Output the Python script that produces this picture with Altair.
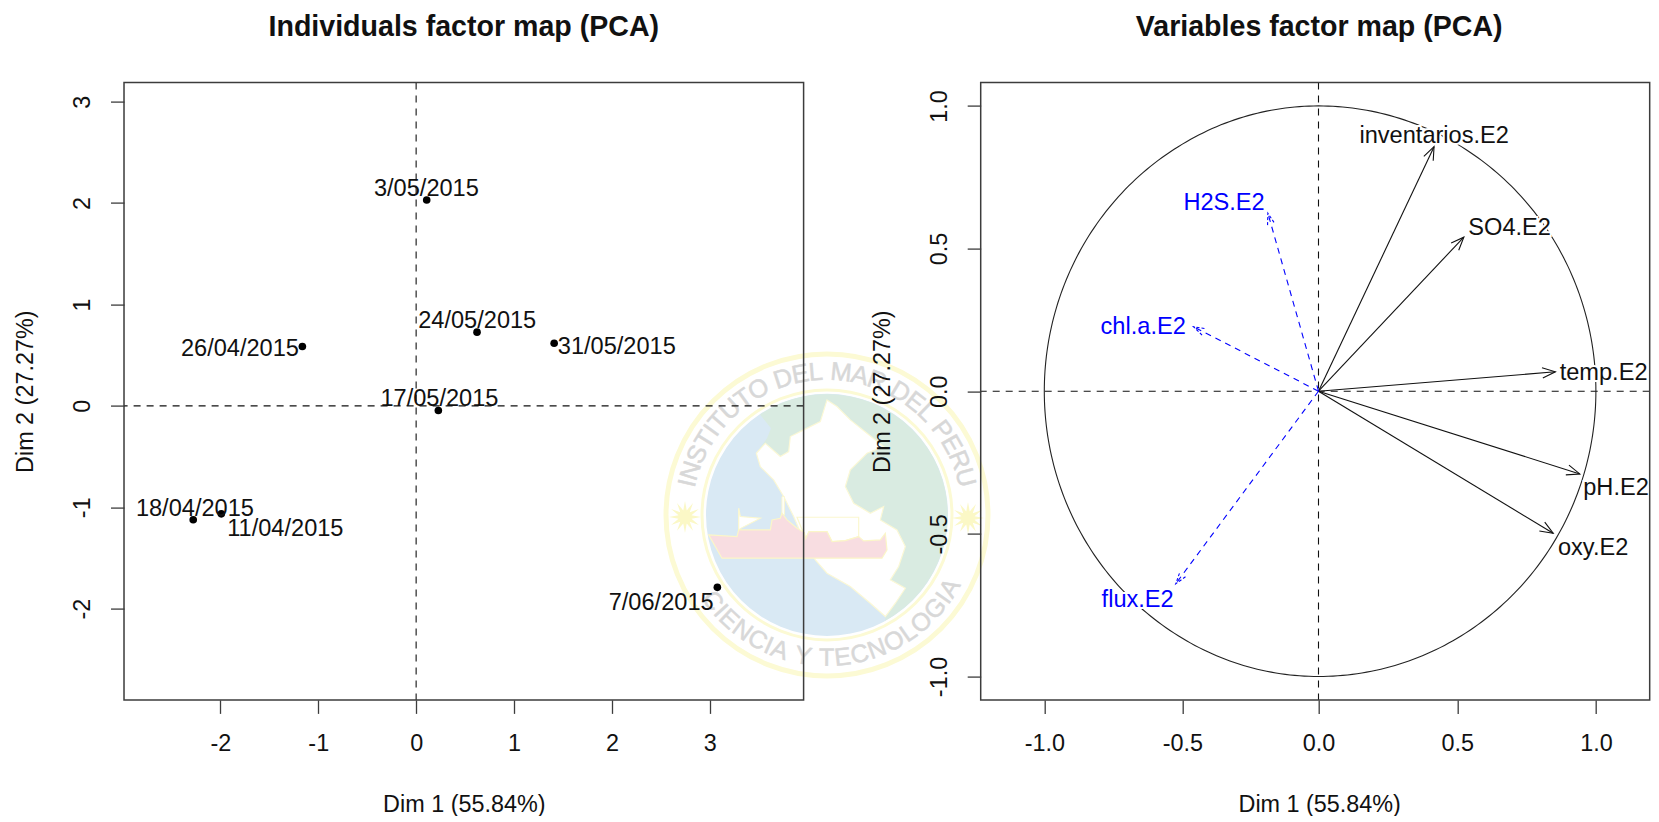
import numpy as np
import pandas as pd
import altair as alt

FONT = "Liberation Sans"
INK = "#111111"
AXIS = "#3c3c3c"

# ---- Individuals panel
ind_labels = ["11/04/2015", "18/04/2015", "26/04/2015", "3/05/2015", "17/05/2015", "24/05/2015", "31/05/2015", "7/06/2015"]
ind_x = [-1.99, -2.277, -1.162, 0.108, 0.227, 0.622, 1.41, 3.077]
ind_y = [-1.065, -1.124, 0.585, 2.03, -0.046, 0.727, 0.618, -1.79]
ind_label_x = [-1.336, -2.26, -1.80, 0.105, 0.238, 0.624, 2.05, 2.503]
ind_label_y = [-1.213, -1.019, 0.559, 2.14, 0.066, 0.838, 0.585, -1.946]

# ---- Variables panel
var_labels = ["inventarios.E2", "SO4.E2", "temp.E2", "pH.E2", "oxy.E2"]
var_x = [0.4166, 0.524, 0.854, 0.942, 0.846]
var_y = [0.857, 0.54, 0.068, -0.29, -0.498]
var_label_x = [0.417, 0.689, 1.028, 1.073, 0.99]
var_label_y = [0.895, 0.572, 0.063, -0.34, -0.548]

sup_labels = ["H2S.E2", "chl.a.E2", "flux.E2"]
sup_x = [-0.186, -0.459, -0.524]
sup_y = [0.624, 0.226, -0.675]
sup_label_x = [-0.347, -0.642, -0.662]
sup_label_y = [0.659, 0.224, -0.732]

ind_ticks_x = [-2, -1, 0, 1, 2, 3]
ind_ticks_y = [-2, -1, 0, 1, 2, 3]
var_ticks = [-1.0, -0.5, 0.0, 0.5, 1.0]

L_W, L_H = 679.6, 617.3
R_W, R_H = 669.0, 617.3
L_DX = [-2.984, 3.958]
L_DY = [-2.90, 3.188]
R_DX = [-1.2306, 1.1951]
R_DY = [-1.082, 1.0817]
lx = alt.Scale(domain=L_DX, nice=False, zero=False)
ly = alt.Scale(domain=L_DY, nice=False, zero=False)
# the source picture's horizontal axis is very slightly uneven around zero
rx = alt.Scale(domain=[R_DX[0], -1.0, -0.5, 0.0, 0.5, 1.0, R_DX[1]],
               range=[0, 63.6, 201.7, 337.8, 476.5, 615.2, R_W], nice=False, zero=False)
ry = alt.Scale(domain=R_DY, nice=False, zero=False)
LPX = L_W / (L_DX[1] - L_DX[0])
LPY = L_H / (L_DY[1] - L_DY[0])
RPX = R_W / (R_DX[1] - R_DX[0])
RPY = R_H / (R_DY[1] - R_DY[0])


def signed(fmt):
    return f"(datum.value<0?'-':'')+format(abs(datum.value),'{fmt}')"


def axis_x(values, expr, **kw):
    return alt.Axis(values=values, labelExpr=expr, title="Dim 1 (55.84%)", grid=False, domain=False,
                    tickColor=AXIS, tickWidth=1.3, tickSize=13.5, labelFont=FONT, labelFontSize=23.4,
                    labelColor=INK, labelPadding=19.5, labelAngle=0, labelFlush=False, labelOverlap=False,
                    titleFont=FONT, titleFontSize=23.4, titleFontWeight="normal", titleColor=INK, titlePadding=38, **kw)


def axis_y(values, expr):
    return alt.Axis(values=values, labelExpr=expr, title="Dim 2 (27.27%)", grid=False, domain=False,
                    tickColor=AXIS, tickWidth=1.3, tickSize=13.5, labelFont=FONT, labelFontSize=23.4,
                    labelColor=INK, labelPadding=16, labelAngle=270, labelAlign="center", labelBaseline="bottom",
                    labelFlush=False, labelOverlap=False,
                    titleFont=FONT, titleFontSize=23.4, titleFontWeight="normal", titleColor=INK, titlePadding=33)


LAX = axis_x(ind_ticks_x, signed("d"))
LAY = axis_y(ind_ticks_y, signed("d"))
RAX = axis_x(var_ticks, signed(".1f"), titleX=338.5)
RAY = axis_y(var_ticks, signed(".1f"))


def LX(f):
    return alt.X(f, scale=lx, axis=LAX)


def LY(f):
    return alt.Y(f, scale=ly, axis=LAY)


def RX(f):
    return alt.X(f, scale=rx, axis=RAX)


def RY(f):
    return alt.Y(f, scale=ry, axis=RAY)


# ---- Watermark (drawn under the left panel, spilling to the right)
LOGO_X = (827 - 124) / LPX + L_DX[0]
LOGO_Y = L_DY[1] - (515 - 82.7) / LPY
R_LOGO = 163.0


def to_path(points):
    pts = [((x - 530) / 489.0, (y - 525) / 489.0) for x, y in points]
    return "M " + " L ".join(f"{a:.4f} {b:.4f}" for a, b in pts) + " Z"


peru = [(530, 180), (560, 200), (600, 240), (650, 280), (700, 320), (650, 340), (600, 390), (585, 440), (610, 490),
        (660, 520), (700, 500), (690, 540), (740, 570), (765, 620), (745, 680), (720, 720), (765, 745), (735, 790),
        (705, 830), (660, 790), (600, 740), (530, 700), (495, 660), (460, 600), (430, 530), (400, 470), (370, 420),
        (330, 380), (318, 340), (345, 310), (390, 350), (415, 335), (420, 290), (460, 270), (510, 245)]
a0, a1 = np.arctan2(845 - 525, 705 - 530), np.arctan2(225 - 525, 330 - 530)
arc_angles = np.linspace(a0, a1 if a1 < a0 else a1 - 2 * np.pi, 60)
land = [(330, 225), (362, 265), (350, 295), (318, 340), (330, 380), (370, 420), (400, 470), (430, 530), (460, 600),
        (495, 660), (530, 700), (600, 740), (660, 790), (705, 830), (705, 845)]
land = land + [(530 + 362 * np.cos(t), 525 + 362 * np.sin(t)) for t in arc_angles]
ship = [(175, 585), (260, 590), (265, 570), (360, 570), (365, 540), (390, 535), (395, 520), (410, 540), (440, 565),
        (462, 578), (466, 596), (476, 575), (530, 575), (545, 605), (585, 602), (625, 590), (640, 603), (690, 600),
        (705, 580), (710, 630), (695, 655), (215, 655)]
flag = [(265, 505), (265, 580), (270, 566), (330, 535), (270, 530)]
mast = [(395, 470), (402, 470), (402, 525), (395, 525)]
upper = [(440, 532), (625, 532), (625, 590), (585, 602), (545, 605), (530, 575), (476, 575), (466, 596)]
star_r = [1.0 if i % 2 == 0 else 0.42 for i in range(24)]
star_path = "M " + " L ".join(
    f"{r * np.cos(i * np.pi / 12):.3f} {r * np.sin(i * np.pi / 12):.3f}" for i, r in enumerate(star_r)) + " Z"


def logo_shape(path, fill, stroke, width=1.5):
    return alt.Chart(pd.DataFrame({"x": [LOGO_X], "y": [LOGO_Y]})).mark_point(
        shape=path, size=(2 * R_LOGO) ** 2, filled=True, fill=fill, stroke=stroke, strokeWidth=width, opacity=1
    ).encode(x=LX("x:Q"), y=LY("y:Q"))


def logo_circle(radius, fill=None, stroke=None, width=0):
    kw = dict(shape="circle", size=(2 * radius) ** 2, opacity=1, strokeWidth=width)
    if fill:
        kw.update(filled=True, fill=fill)
    else:
        kw.update(filled=False)
    if stroke:
        kw.update(stroke=stroke)
    return alt.Chart(pd.DataFrame({"x": [LOGO_X], "y": [LOGO_Y]})).mark_point(**kw).encode(x=LX("x:Q"), y=LY("y:Q"))


CHAR_W = {"I": .28, " ": .30, "M": .83, "A": .67, "E": .67, "S": .67, "T": .61, "U": .72, "O": .78, "D": .72, "L": .56,
          "R": .72, "P": .67, "N": .72, "C": .72, "Y": .67, "G": .78}


def arc_text(text, centre_deg, radius, fs, direction):
    widths = np.array([CHAR_W[c] * fs for c in text])
    mids = np.cumsum(widths) - widths / 2 - widths.sum() / 2
    theta = np.radians(centre_deg) + direction * mids / radius
    return pd.DataFrame({
        "c": list(text),
        "x": LOGO_X + radius * np.sin(theta) / LPX,
        "y": LOGO_Y + radius * np.cos(theta) / LPY,
        "rot": (np.degrees(theta) - (0 if direction > 0 else 180)) % 360,
    })


def ring_text(df, fs):
    return alt.Chart(df).mark_text(font=FONT, fontSize=fs, color="#d8d8d8", stroke="#d8d8d8", strokeWidth=0.5,
                                   align="center", baseline="middle").encode(
        x=LX("x:Q"), y=LY("y:Q"), text="c:N", angle=alt.Angle("rot:Q", scale=None))


stars = alt.Chart(pd.DataFrame({
    "x": [(685 - 124) / LPX + L_DX[0], (968 - 124) / LPX + L_DX[0]],
    "y": [L_DY[1] - (517 - 82.7) / LPY, L_DY[1] - (518 - 82.7) / LPY]})).mark_point(
    shape=star_path, size=32 ** 2, filled=True, fill="#fbf8c6", strokeWidth=0, opacity=1).encode(
    x=LX("x:Q"), y=LY("y:Q"))

watermark = [
    logo_circle(161, stroke="#fcfad4", width=5),
    logo_circle(125, stroke="#fcfad4", width=3),
    logo_circle(121, fill="#d9e9f4"),
    logo_shape(to_path(land), "#d9ebe1", "#d9ebe1", 0),
    logo_shape(to_path(peru), "#ffffff", "#fbf8d6", 1.2),
    logo_shape(to_path(flag), "#ffffff", "#fbf8d0", 1.2),
    logo_shape(to_path(mast), "#ffffff", "#fbf8d0", 1.0),
    logo_shape(to_path(upper), "#ffffff", "#fbf8d0", 1.2),
    logo_shape(to_path(ship), "#f8dde1", "#fbf6c8", 1.2),
    stars,
    ring_text(arc_text("INSTITUTO DEL MAR DEL PERU", 0, 143, 25.5, 1), 25.5),
    ring_text(arc_text("CIENCIA Y TECNOLOGIA", 177, 143, 25, -1), 25),
]

# ---- Left panel
ind = pd.DataFrame({"lab": ind_labels, "x": ind_x, "y": ind_y, "lx": ind_label_x, "ly": ind_label_y})
zero = pd.DataFrame({"v": [0]})
rule_l_v = alt.Chart(zero).mark_rule(color=INK, strokeDash=[7, 6], strokeWidth=1.1).encode(x=LX("v:Q"))
rule_l_h = alt.Chart(zero).mark_rule(color=INK, strokeDash=[7, 6], strokeWidth=1.1).encode(y=LY("v:Q"))
points = alt.Chart(ind).mark_point(shape="circle", filled=True, color="#000000", size=58, opacity=1).encode(
    x=LX("x:Q"), y=LY("y:Q"))
ind_text = alt.Chart(ind).mark_text(font=FONT, fontSize=23.6, color=INK, align="center", baseline="middle").encode(
    x=LX("lx:Q"), y=LY("ly:Q"), text="lab:N")


def box(w, h):
    return alt.Chart(zero).mark_rect(filled=False, stroke=AXIS, strokeWidth=1.5).encode(
        x=alt.value(0), x2=alt.value(w), y=alt.value(0), y2=alt.value(h))


left = alt.layer(*watermark, rule_l_v, rule_l_h, points, ind_text, box(L_W, L_H)).properties(
    width=L_W, height=L_H,
    title=alt.TitleParams("Individuals factor map (PCA)", font=FONT, fontSize=28.6, fontWeight="bold", color=INK,
                          anchor="middle", offset=40))

# ---- Right panel
theta_c = np.linspace(0, 2 * np.pi, 361)
circle = pd.DataFrame({"i": np.arange(361), "x": np.cos(theta_c), "y": np.sin(theta_c)})
var = pd.DataFrame({"lab": var_labels, "x": var_x, "y": var_y, "lx": var_label_x, "ly": var_label_y})
sup = pd.DataFrame({"lab": sup_labels, "x": sup_x, "y": sup_y, "lx": sup_label_x, "ly": sup_label_y})
for d in (var, sup):
    d["x0"] = 0.0
    d["y0"] = 0.0
    d["rot"] = np.degrees(np.arctan2(d["x"] * RPX, d["y"] * RPY)) % 360

HEAD = "M -0.37 0.93 L 0 0 L 0.37 0.93"
HEAD_SUP = "M -0.3 0.95 L 0 0 L 0.3 0.95"
rule_r_v = alt.Chart(zero).mark_rule(color=INK, strokeDash=[7, 6], strokeWidth=1.1).encode(x=RX("v:Q"))
rule_r_h = alt.Chart(zero).mark_rule(color=INK, strokeDash=[7, 6], strokeWidth=1.1).encode(y=RY("v:Q"))
circ = alt.Chart(circle).mark_line(color="#222222", strokeWidth=1.1).encode(x=RX("x:Q"), y=RY("y:Q"), order="i:Q")


def shafts(df, color, dash=None):
    kw = {"strokeDash": dash} if dash else {}
    return alt.Chart(df).mark_rule(color=color, strokeWidth=1.1, **kw).encode(
        x=RX("x0:Q"), y=RY("y0:Q"), x2="x:Q", y2="y:Q")


def heads(df, color, path, px, dash=None):
    kw = {"strokeDash": dash} if dash else {}
    return alt.Chart(df).mark_point(shape=path, size=(2 * px) ** 2, filled=False, stroke=color, strokeWidth=1.1,
                                    opacity=1, **kw).encode(
        x=RX("x:Q"), y=RY("y:Q"), angle=alt.Angle("rot:Q", scale=None))


def var_text(df, color, halo=False):
    kw = dict(stroke="#ffffff", strokeWidth=4) if halo else {}
    return alt.Chart(df).mark_text(font=FONT, fontSize=23.6, color=color, align="center", baseline="middle", **kw).encode(
        x=RX("lx:Q"), y=RY("ly:Q"), text="lab:N")


right = alt.layer(rule_r_v, rule_r_h, circ,
                  var_text(var, "#ffffff", True), var_text(sup, "#ffffff", True),
                  shafts(var, INK), heads(var, INK, HEAD, 14),
                  shafts(sup, "#0000ff", [6, 5]), heads(sup, "#0000ff", HEAD_SUP, 12, [3, 2]),
                  var_text(var, INK), var_text(sup, "#0000ff"), box(R_W, R_H)).properties(
    width=R_W, height=R_H,
    title=alt.TitleParams("Variables factor map (PCA)", font=FONT, fontSize=28.6, fontWeight="bold", color=INK,
                          anchor="middle", offset=40, dx=4))

chart = alt.hconcat(left, right, spacing=176.7, bounds="flush").properties(
    padding={"left": 5, "top": 4.6, "right": 0, "bottom": 0}, background="#ffffff"
).configure_view(stroke=None, fill=None)

chart.save("out.html", embed_options={"renderer": "svg", "actions": False})
